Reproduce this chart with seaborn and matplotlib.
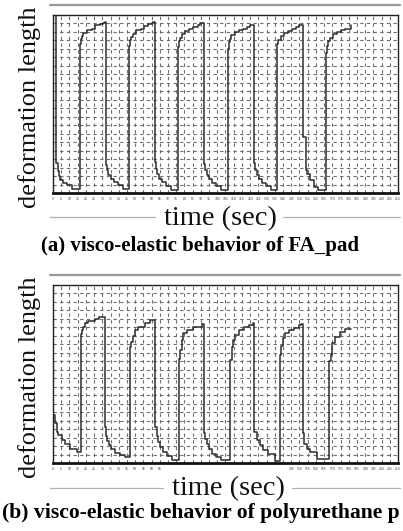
import matplotlib
matplotlib.use("Agg")
import matplotlib.pyplot as plt
import seaborn as sns
import pandas as pd
from matplotlib.lines import Line2D

sns.set_style("white")
plt.rcParams["font.family"] = ["Liberation Serif", "DejaVu Serif"]

# ---------------- data (grid units) ----------------
# (a) FA_pad
time_a = [0.35, 0.42, 0.55, 0.7, 0.9, 1.2, 1.7, 2.3,
          3.29, 3.4, 3.5, 3.7, 4.1, 4.7, 5.1, 5.7, 6.1, 6.3,
          6.45, 6.55, 6.75, 7.0, 7.4, 7.9, 8.5,
          9.26, 9.36, 9.5, 9.7, 10.1, 10.7, 11.1, 11.6, 12.0, 12.2,
          12.4, 12.5, 12.7, 12.95, 13.3, 13.8, 14.4,
          15.26, 15.36, 15.5, 15.7, 16.1, 16.6, 17.1, 17.6, 17.9, 18.2,
          18.4, 18.5, 18.7, 18.95, 19.3, 19.8, 20.4,
          21.27, 21.37, 21.5, 21.7, 22.1, 22.7, 23.1, 23.6, 24.0, 24.3,
          24.5, 24.6, 24.8, 25.05, 25.4, 25.9, 26.5,
          27.23, 27.33, 27.45, 27.7, 28.1, 28.6, 29.1, 29.6, 30.0, 30.2,
          30.4, 30.85, 30.95, 31.3, 31.8, 32.3,
          33.24, 33.34, 33.5, 33.7, 34.1, 34.6, 35.1, 35.6, 36.0, 36.25, 36.3]
defo_a = [20.9, 3.5, 2.6, 2.0, 1.5, 1.15, 0.95, 0.5,
          17.6, 18.2, 18.5, 18.85, 19.25, 19.4, 19.8, 19.9, 20.1, 20.2,
          3.3, 2.7, 2.1, 1.7, 1.3, 0.9, 0.45,
          17.3, 18.0, 18.4, 18.8, 19.2, 19.4, 19.7, 19.9, 20.1, 20.2,
          3.6, 2.8, 2.2, 1.7, 1.25, 0.85, 0.4,
          17.2, 17.9, 18.3, 18.7, 19.1, 19.3, 19.6, 19.8, 20.0, 20.1,
          3.4, 2.7, 2.1, 1.6, 1.2, 0.8, 0.35,
          17.0, 17.8, 18.2, 18.6, 19.0, 19.2, 19.4, 19.6, 19.8, 19.85,
          3.5, 2.7, 2.1, 1.6, 1.2, 0.8, 0.35,
          16.8, 17.6, 18.1, 18.5, 18.9, 19.1, 19.4, 19.6, 19.8, 19.85,
          6.6, 2.7, 2.2, 1.5, 0.75, 0.35,
          16.5, 17.4, 17.9, 18.3, 18.7, 19.0, 19.2, 19.3, 19.4, 19.8, 19.8]

# (b) polyurethane pad
time_b = [0.05, 0.3, 0.45, 0.65, 1.05, 1.45, 2.05, 2.9,
          3.37, 3.55, 3.7, 3.9, 4.3, 5.1, 5.6, 6.2,
          6.33, 6.45, 6.6, 6.8, 7.1, 7.6, 8.1, 8.8,
          9.38, 9.55, 9.75, 10.0, 10.4, 11.2, 11.8, 12.3,
          12.45, 12.6, 12.8, 13.05, 13.4, 13.9, 14.5,
          15.3, 15.45, 15.65, 15.85, 16.3, 17.1, 18.1,
          18.35, 18.5, 18.7, 18.95, 19.3, 19.8, 20.5,
          21.6, 21.75, 21.95, 22.2, 22.6, 23.3, 23.9, 24.3,
          24.5, 24.8, 25.2, 25.6, 26.2, 27.0,
          27.65, 27.8, 28.0, 28.3, 28.7, 29.3, 29.9, 30.2,
          30.4, 30.55, 30.9, 31.3, 32.1,
          33.65, 33.8, 33.95, 34.3, 34.9, 35.5, 36.3]
defo_b = [5.7, 4.7, 3.7, 3.3, 2.7, 2.3, 1.7, 1.33,
          15.2, 15.7, 16.1, 16.5, 16.7, 16.95, 17.25, 17.25,
          4.2, 3.2, 2.6, 2.1, 1.6, 1.2, 0.95, 0.75,
          13.7, 14.3, 15.0, 15.7, 16.1, 16.5, 16.85, 16.85,
          4.3, 3.2, 2.5, 1.9, 1.3, 0.8, 0.4,
          12.3, 13.3, 14.5, 15.3, 15.7, 16.1, 16.4,
          3.5, 2.8, 2.2, 1.6, 1.1, 0.7, 0.35,
          12.2, 13.7, 14.5, 15.1, 15.7, 16.1, 16.3, 16.5,
          3.6, 2.7, 2.1, 1.5, 1.1, 0.2,
          12.8, 13.8, 14.7, 15.3, 15.7, 15.9, 16.3, 16.35,
          3.5, 2.3, 1.7, 1.35, 0.45,
          12.0, 12.9, 14.1, 14.9, 15.5, 15.8, 15.8]

grid_x = list(range(0, 43))
grid_y = list(range(0, 22))
tick_labels_a = ["0", "5", "10", "15", "20", "25", "30", "35", "40", "45", "50",
                 "55", "60", "65", "70", "75", "80", "85", "90", "95", "100",
                 "105", "110", "115", "120", "125", "130", "135", "140", "145",
                 "150", "155", "160", "165", "170", "175", "180", "185", "190",
                 "195", "200", "205", "210"]
tick_labels_b = ["0", "5", "10", "15", "20", "25", "30", "35", "40", "45", "50",
                 "55", "60", "65", "", "", "", "", "", "", "", "", "", "", "",
                 "", "", "", "", "145", "150", "155", "160", "165", "170", "175",
                 "180", "185", "190", "195", "200", "205", "210"]

ylabel = "deformation length"
xlabel = "time (sec)"
caption_a = "(a) visco-elastic behavior of FA_pad"
caption_b = "(b) visco-elastic behavior of polyurethane p"

# ---------------- figure ----------------
W, H = 403, 531
fig = plt.figure(figsize=(W / 100, H / 100), dpi=100)
fig.patch.set_facecolor("white")


def fx(px):
    return px / W


def fy(py):
    return 1 - py / H


def panel(top_px, t, d, labels):
    ax = fig.add_axes([fx(53), fy(top_px + 178), fx(345), 178 / H])
    df = pd.DataFrame({"time": t, "deformation": d})
    sns.lineplot(data=df, x="time", y="deformation", ax=ax, sort=False,
                 estimator=None, drawstyle="steps-post", color="#2e2e2e",
                 lw=1.1)
    ax.set_xlim(0, 42)
    ax.set_ylim(0, 21)
    ax.set_xticks(grid_x)
    ax.set_xticklabels(labels, fontsize=2.2, color="#444444",
                       family="DejaVu Sans")
    ax.set_yticks(grid_y)
    ax.set_yticklabels([])
    ax.grid(True, ls=(0, (3, 3)), color="#6e6e6e", lw=0.8)
    ax.tick_params(axis="both", direction="out", length=2, width=0.6,
                   pad=1, colors="#333333")
    ax.set_xlabel("")
    ax.set_ylabel("")
    for s in ["top", "right", "left"]:
        ax.spines[s].set_color("#222222")
        ax.spines[s].set_linewidth(1.0)
    ax.spines["bottom"].set_color("#111111")
    ax.spines["bottom"].set_linewidth(2.0)
    return ax


def deco(top_line_y, xl_y, left_end, right_start):
    fig.add_artist(Line2D([fx(50), fx(400)], [fy(top_line_y)] * 2,
                          color="#9a9a9a", lw=1.6))
    fig.add_artist(Line2D([fx(50), fx(left_end)], [fy(xl_y)] * 2,
                          color="#b0b0b0", lw=0.9))
    fig.add_artist(Line2D([fx(right_start), fx(400)], [fy(xl_y)] * 2,
                          color="#b0b0b0", lw=0.9))


panel(15, time_a, defo_a, tick_labels_a)
panel(285, time_b, defo_b, tick_labels_b)

deco(5, 217, 155, 283)
deco(275, 488, 163, 292)

fig.text(fx(30), fy(107), ylabel, rotation=90, ha="center", va="center",
         fontsize=19, color="#111111")
fig.text(fx(30), fy(377), ylabel, rotation=90, ha="center", va="center",
         fontsize=19, color="#111111")
fig.text(fx(220), fy(219), xlabel, ha="center", va="center", fontsize=20.5,
         color="#111111")
fig.text(fx(228), fy(489), xlabel, ha="center", va="center", fontsize=20.5,
         color="#111111")
fig.text(fx(200), fy(246), caption_a, ha="center", va="center", fontsize=15,
         fontweight="bold", color="#000000")
fig.text(fx(2), fy(513), caption_b, ha="left", va="center", fontsize=15.6,
         fontweight="bold", color="#000000")

fig.savefig("out.png", dpi=100, facecolor="white")
